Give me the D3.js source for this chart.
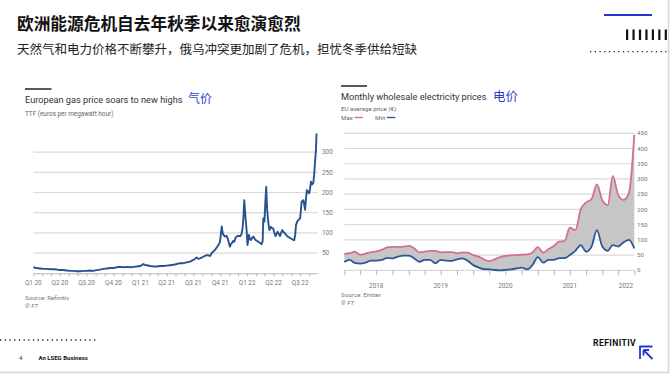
<!DOCTYPE html>
<html>
<head>
<meta charset="utf-8">
<script src="https://cdn.jsdelivr.net/npm/d3@7"></script>
<style>
  body { margin: 0; background: #fff; }
  svg text { font-family: Roboto, "Noto Sans", sans-serif; }
  .cjk { font-family: "Noto Sans CJK SC", sans-serif !important; }
</style>
</head>
<body>
<div id="slide"></div>
<script>
// ---- DATA ----
// European gas price, TTF (euros per megawatt hour)
var gasDates = [
  '2020-01-01','2020-01-12','2020-01-24','2020-02-05','2020-02-16','2020-03-01','2020-03-15','2020-04-01',
  '2020-04-12','2020-04-24','2020-05-06','2020-05-17','2020-05-29','2020-06-09','2020-06-20','2020-07-01',
  '2020-07-12','2020-07-24','2020-08-05','2020-08-16','2020-08-28','2020-09-08','2020-09-20','2020-10-01',
  '2020-10-12','2020-10-23','2020-11-04','2020-11-15','2020-11-27','2020-12-08','2020-12-20','2020-12-31',
  '2021-01-06','2021-01-11','2021-01-16','2021-01-23','2021-02-03','2021-02-14','2021-02-25','2021-03-09',
  '2021-03-20','2021-04-01','2021-04-12','2021-04-24','2021-05-05','2021-05-16','2021-05-28','2021-06-08',
  '2021-06-20','2021-07-01','2021-07-07','2021-07-12','2021-07-18','2021-07-24','2021-08-04','2021-08-16',
  '2021-08-22','2021-08-27','2021-09-02','2021-09-07','2021-09-13','2021-09-20','2021-09-25','2021-09-30',
  '2021-10-06','2021-10-09','2021-10-12','2021-10-17','2021-10-22','2021-10-26','2021-11-03','2021-11-06',
  '2021-11-09','2021-11-14','2021-11-18','2021-11-22','2021-11-26','2021-12-01','2021-12-08','2021-12-12',
  '2021-12-16','2021-12-19','2021-12-22','2021-12-26','2021-12-30','2022-01-02','2022-01-07','2022-01-10',
  '2022-01-14','2022-01-18','2022-01-22','2022-01-26','2022-01-30','2022-02-04','2022-02-08','2022-02-14',
  '2022-02-19','2022-02-23','2022-02-25','2022-03-01','2022-03-04','2022-03-07','2022-03-10','2022-03-12',
  '2022-03-15','2022-03-18','2022-03-23','2022-03-27','2022-03-31','2022-04-04','2022-04-08','2022-04-12',
  '2022-04-15','2022-04-19','2022-04-23','2022-04-27','2022-05-01','2022-05-05','2022-05-10','2022-05-14',
  '2022-05-19','2022-05-23','2022-05-27','2022-06-01','2022-06-04','2022-06-08','2022-06-11','2022-06-14',
  '2022-06-17','2022-06-21','2022-06-25','2022-07-01','2022-07-04','2022-07-06','2022-07-12','2022-07-15',
  '2022-07-18','2022-07-21','2022-07-24','2022-07-28','2022-08-01','2022-08-04','2022-08-07','2022-08-11',
  '2022-08-15','2022-08-18','2022-08-21','2022-08-24','2022-08-26'
];
var gasValues = [
  15, 13, 12, 11, 11, 10, 10, 8,
  8, 7, 6, 6, 5, 5, 6, 6,
  7, 6, 8, 9, 11, 12, 13, 13,
  15, 16, 15, 16, 15, 16, 17, 18,
  20, 23, 21, 20, 18, 17, 17, 18,
  18, 19, 20, 21, 23, 25, 25, 27,
  29, 33, 36, 39, 36, 37, 41, 45,
  44, 43, 50, 54, 58, 65, 70, 78,
  116, 100, 95, 91, 93, 87, 66, 72,
  74, 80, 78, 88, 91, 93, 92, 95,
  110, 136, 181, 140, 107, 70, 95, 85,
  82, 88, 91, 86, 82, 80, 78, 75,
  72, 80, 136, 128, 175, 214, 160, 144,
  120, 107, 115, 112, 111, 100, 92, 98,
  103, 98, 92, 100, 107, 102, 99, 95,
  91, 90, 87, 86, 84, 83, 82, 95,
  120, 128, 132, 136, 160, 177, 181, 170,
  157, 185, 206, 200, 198, 210, 227, 220,
  223, 245, 276, 305, 346
];
var gasTicks = [50, 100, 150, 200, 250, 300];
var quarterLabels = ['Q1 20','Q2 20','Q3 20','Q4 20','Q1 21','Q2 21','Q3 21','Q4 21','Q1 22','Q2 22','Q3 22'];

// Monthly wholesale electricity prices, EU average (euros), Jan 2018 - Jul 2022
var elecMax = [
  54, 56, 61, 51, 55, 59, 62, 67, 75, 77, 77, 78,
  80, 72, 59, 61, 64, 64, 59, 60, 60, 56, 59, 58,
  50, 45, 36, 30, 36, 43, 47, 49, 50, 51, 52, 58,
  76, 58, 69, 80, 94, 96, 140, 132, 200, 223, 234, 282,
  230, 214, 310, 247, 231, 255, 445
];
var elecMin = [
  27, 34, 24, 22, 25, 32, 32, 34, 41, 39, 45, 48,
  48, 39, 28, 34, 34, 23, 34, 32, 31, 36, 39, 31,
  17, 9, 4, 3, 1, 0, 1, 3, 6, 9, 3, 17,
  43, 25, 34, 34, 40, 40, 50, 64, 83, 61, 78, 132,
  78, 64, 83, 78, 92, 100, 72
];
var elecTicks = [0, 50, 100, 150, 200, 250, 300, 350, 400, 450];
var yearLabels = ['2018', '2019', '2020', '2021', '2022'];
var yearLabelDates = ['2018-07-01', '2019-07-01', '2020-07-01', '2021-07-01', '2022-05-15'];
var legendNames = ['Max', 'Min'];

// ---- MAIN ----
var parse = d3.timeParse('%Y-%m-%d');
var gasPoints = gasDates.map(function(d, i) { return { date: parse(d), value: gasValues[i] }; });
var elecMonths = d3.timeMonth.range(new Date(2018, 0, 1), new Date(2022, 7, 1));
var elecPoints = elecMonths.map(function(d, i) { return { date: d, max: elecMax[i], min: elecMin[i] }; });

var gridColor = '#dadada';
var labelColor = '#777';
var maxColor = '#d4708a';
var minColor = '#2c5796';

var svg = d3.select('#slide').append('svg')
  .attr('width', 670)
  .attr('height', 374);

svg.append('rect').attr('width', 670).attr('height', 374).attr('fill', '#fff');
// slide edge
svg.append('path')
  .attr('d', 'M668.5,0V372.5H0')
  .attr('fill', 'none')
  .attr('stroke', '#d6d6d6')
  .attr('stroke-width', 1.5);

// slide header
svg.append('text')
  .attr('class', 'cjk')
  .attr('x', 17).attr('y', 30)
  .style('font-size', '16.7px')
  .style('font-weight', 'bold')
  .attr('fill', '#111')
  .text('欧洲能源危机自去年秋季以来愈演愈烈');

svg.append('text')
  .attr('class', 'cjk')
  .attr('x', 17).attr('y', 54)
  .style('font-size', '12.5px')
  .attr('fill', '#222')
  .text('天然气和电力价格不断攀升，俄乌冲突更加剧了危机，担忧冬季供给短缺');

// top right decoration
svg.append('line')
  .attr('x1', 604).attr('x2', 652).attr('y1', 15).attr('y2', 15)
  .attr('stroke', '#2236d4').attr('stroke-width', 2.2);
d3.range(7).forEach(function(i) {
  svg.append('rect')
    .attr('x', 626 + i * 6.45).attr('y', 29.5)
    .attr('width', 2.2).attr('height', 10.5)
    .attr('fill', '#111');
});
svg.append('line')
  .attr('x1', 590).attr('x2', 670).attr('y1', 51.7).attr('y2', 51.7)
  .attr('stroke', '#222').attr('stroke-width', 1.3)
  .attr('stroke-dasharray', '1.3,3.4');

// bottom left decoration
svg.append('line')
  .attr('x1', 0).attr('x2', 98).attr('y1', 340).attr('y2', 340)
  .attr('stroke', '#222').attr('stroke-width', 1.3)
  .attr('stroke-dasharray', '1.3,3.4');
svg.append('text')
  .attr('x', 19).attr('y', 360)
  .style('font-size', '6px')
  .attr('fill', '#333')
  .text('4');
svg.append('text')
  .attr('x', 38.5).attr('y', 360)
  .style('font-size', '6px')
  .style('font-weight', 'bold')
  .attr('fill', '#111')
  .text('An LSEG Business');

// REFINITIV logo
svg.append('text')
  .attr('x', 593).attr('y', 346)
  .style('font-size', '8.6px')
  .style('font-weight', 'bold')
  .style('letter-spacing', '0.4px')
  .attr('fill', '#111')
  .text('REFINITIV');
svg.append('path')
  .attr('d', 'M640,359V346.5H652.5 M643.5,350L652.5,359 M643.5,350H649 M643.5,350V355.5')
  .attr('fill', 'none')
  .attr('stroke', '#2236d4')
  .attr('stroke-width', 1.8);

// ============ LEFT CHART: gas ============
var gas = svg.append('g');

gas.append('line')
  .attr('x1', 25).attr('x2', 51.5).attr('y1', 89).attr('y2', 89)
  .attr('stroke', '#222').attr('stroke-width', 1.5);
gas.append('text')
  .attr('x', 25).attr('y', 102.5)
  .style('font-size', '9.2px')
  .attr('fill', '#333')
  .text('European gas price soars to new highs');
gas.append('text')
  .attr('class', 'cjk')
  .attr('x', 188).attr('y', 103)
  .style('font-size', '12px')
  .attr('fill', '#2a3fcf')
  .text('气价');
gas.append('text')
  .attr('x', 25).attr('y', 116)
  .style('font-size', '6.4px')
  .attr('fill', '#666')
  .text('TTF (euros per megawatt hour)');

var xGas = d3.scaleTime()
  .domain([new Date(2020, 0, 1), new Date(2022, 7, 30)])
  .range([33.3, 317.7]);
var yGas = d3.scaleLinear()
  .domain([0, 300])
  .range([273.3, 152.1]);

// gridlines + right labels
gas.selectAll('.grid').data(gasTicks)
  .enter().append('line')
    .attr('x1', 33.3).attr('x2', 317.7)
    .attr('y1', function(d) { return yGas(d); })
    .attr('y2', function(d) { return yGas(d); })
    .attr('stroke', gridColor).attr('stroke-width', 1.2);
gas.selectAll('.ylab').data(gasTicks)
  .enter().append('text')
    .attr('x', 322)
    .attr('y', function(d) { return yGas(d); })
    .attr('dy', '0.35em')
    .style('font-size', '6.4px')
    .attr('fill', labelColor)
    .text(function(d) { return d; });

// bottom axis with monthly ticks
var gasAxis = d3.axisBottom(xGas)
  .ticks(d3.timeMonth.every(1))
  .tickSize(3)
  .tickSizeOuter(0)
  .tickFormat('');
var gasAxisG = gas.append('g')
  .attr('transform', 'translate(0,' + yGas(0) + ')')
  .call(gasAxis);
gasAxisG.selectAll('path, line').attr('stroke', '#b5b5b5');

var quarters = d3.timeMonth.every(3).range(new Date(2020, 0, 1), new Date(2022, 7, 2));
gas.selectAll('.qlab').data(quarters)
  .enter().append('text')
    .attr('x', function(d) { return xGas(d); })
    .attr('y', 284.5)
    .attr('text-anchor', 'middle')
    .style('font-size', '6.4px')
    .attr('fill', labelColor)
    .text(function(d, i) { return quarterLabels[i]; });

// the line
gas.append('path')
  .datum(gasPoints)
  .attr('fill', 'none')
  .attr('stroke', '#28528f')
  .attr('stroke-width', 1.9)
  .attr('stroke-linejoin', 'round')
  .attr('d', d3.line()
    .x(function(d) { return xGas(d.date); })
    .y(function(d) { return yGas(d.value); }));

gas.append('text')
  .attr('x', 25).attr('y', 299.5)
  .style('font-size', '6.2px')
  .attr('fill', '#777')
  .text('Source: Refinitiv');
gas.append('text')
  .attr('x', 25).attr('y', 307.5)
  .style('font-size', '6.2px')
  .style('font-style', 'italic')
  .attr('fill', '#777')
  .text('© FT');

// ============ RIGHT CHART: electricity ============
var el = svg.append('g');

el.append('line')
  .attr('x1', 341).attr('x2', 367).attr('y1', 86).attr('y2', 86)
  .attr('stroke', '#222').attr('stroke-width', 1.5);
el.append('text')
  .attr('x', 341).attr('y', 99.5)
  .style('font-size', '9.2px')
  .attr('fill', '#333')
  .text('Monthly wholesale electricity prices');
el.append('text')
  .attr('class', 'cjk')
  .attr('x', 493).attr('y', 100.5)
  .style('font-size', '12.5px')
  .attr('fill', '#2a3fcf')
  .text('电价');
el.append('text')
  .attr('x', 341).attr('y', 110.8)
  .style('font-size', '6.2px')
  .attr('fill', '#666')
  .text('EU average price (€)');

// legend: text followed by a short swatch line
var legendX = [341, 375];
var legendColors = [maxColor, minColor];
legendNames.forEach(function(name, i) {
  var t = el.append('text')
    .attr('x', legendX[i]).attr('y', 119.5)
    .style('font-size', '6.2px')
    .attr('fill', '#666')
    .text(name);
  var w = t.node().getComputedTextLength();
  el.append('line')
    .attr('x1', legendX[i] + w + 1.5).attr('x2', legendX[i] + w + 10)
    .attr('y1', 117.5).attr('y2', 117.5)
    .attr('stroke', legendColors[i]).attr('stroke-width', 1.4);
});

var xEl = d3.scaleTime()
  .domain([new Date(2018, 0, 1), new Date(2022, 6, 1)])
  .range([344.3, 634.3]);
var yEl = d3.scaleLinear()
  .domain([0, 450])
  .range([270.3, 133.3]);

el.selectAll('.grid').data(elecTicks)
  .enter().append('line')
    .attr('x1', 344.3).attr('x2', 634.3)
    .attr('y1', function(d) { return yEl(d); })
    .attr('y2', function(d) { return yEl(d); })
    .attr('stroke', gridColor).attr('stroke-width', 1.2);
el.selectAll('.ylab').data(elecTicks)
  .enter().append('text')
    .attr('x', 637)
    .attr('y', function(d) { return yEl(d); })
    .attr('dy', '0.35em')
    .style('font-size', '6.2px')
    .attr('fill', labelColor)
    .text(function(d) { return d; });

// shaded range between min and max
el.append('path')
  .datum(elecPoints)
  .attr('fill', '#c6c6c6')
  .attr('d', d3.area()
    .curve(d3.curveMonotoneX)
    .x(function(d) { return xEl(d.date); })
    .y0(function(d) { return yEl(d.min); })
    .y1(function(d) { return yEl(d.max); }));

el.append('path')
  .datum(elecPoints)
  .attr('fill', 'none')
  .attr('stroke', maxColor)
  .attr('stroke-width', 1.8)
  .attr('d', d3.line()
    .curve(d3.curveMonotoneX)
    .x(function(d) { return xEl(d.date); })
    .y(function(d) { return yEl(d.max); }));

el.append('path')
  .datum(elecPoints)
  .attr('fill', 'none')
  .attr('stroke', minColor)
  .attr('stroke-width', 1.8)
  .attr('d', d3.line()
    .curve(d3.curveMonotoneX)
    .x(function(d) { return xEl(d.date); })
    .y(function(d) { return yEl(d.min); }));

// quarterly ticks
var elAxis = d3.axisBottom(xEl)
  .ticks(d3.timeMonth.every(3))
  .tickSize(5)
  .tickSizeOuter(0)
  .tickFormat('');
var elAxisG = el.append('g')
  .attr('transform', 'translate(0,' + yEl(0) + ')')
  .call(elAxis);
elAxisG.select('.domain').remove();
elAxisG.selectAll('line').attr('stroke', '#b5b5b5');

el.selectAll('.yearlab').data(yearLabels)
  .enter().append('text')
    .attr('x', function(d, i) { return xEl(parse(yearLabelDates[i])); })
    .attr('y', 287.5)
    .attr('text-anchor', 'middle')
    .style('font-size', '6.4px')
    .attr('fill', labelColor)
    .text(function(d) { return d; });

el.append('text')
  .attr('x', 341).attr('y', 297)
  .style('font-size', '6.2px')
  .attr('fill', '#777')
  .text('Source: Ember');
el.append('text')
  .attr('x', 341).attr('y', 305)
  .style('font-size', '6.2px')
  .style('font-style', 'italic')
  .attr('fill', '#777')
  .text('© FT');
</script>
</body>
</html>
